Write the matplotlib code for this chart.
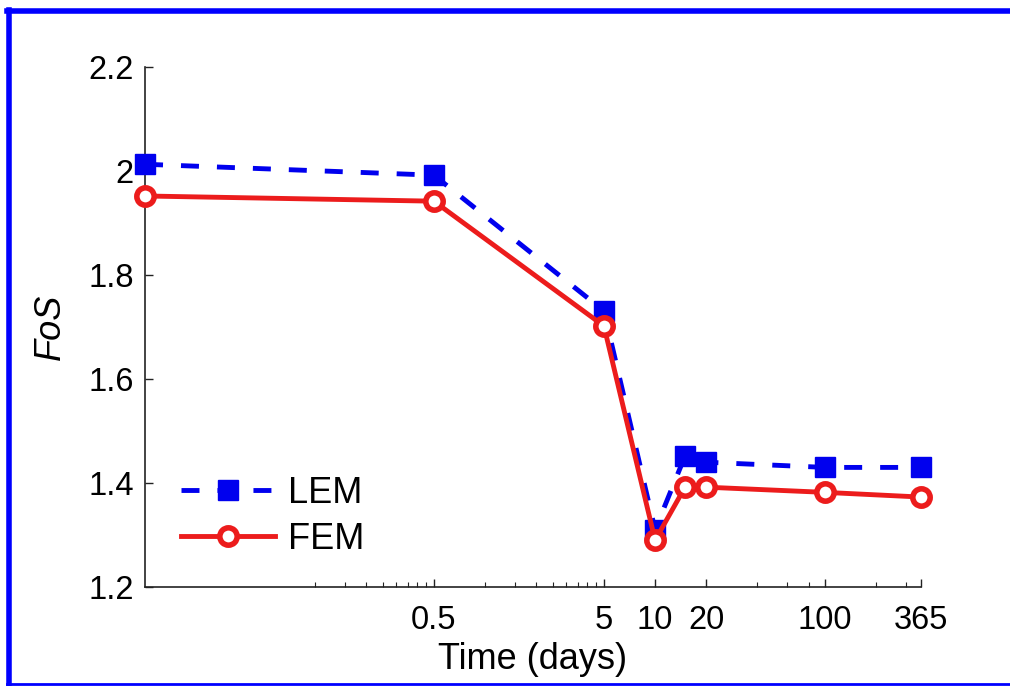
import matplotlib.pyplot as plt
from matplotlib.lines import Line2D

plt.rcParams['font.family'] = ['Liberation Sans', 'DejaVu Sans']

# data
days = [0.01, 0.5, 5, 10, 15, 20, 100, 365]
lem = [2.013, 1.992, 1.731, 1.31, 1.452, 1.44, 1.43, 1.43]
fem = [1.952, 1.942, 1.702, 1.29, 1.392, 1.392, 1.382, 1.373]
xticks = [0.5, 5, 10, 20, 100, 365]
xlabels = ['0.5', '5', '10', '20', '100', '365']
yticks = [1.2, 1.4, 1.6, 1.8, 2.0, 2.2]
ylabels = ['1.2', '1.4', '1.6', '1.8', '2', '2.2']
minor = [0.1, 0.15, 0.2, 0.25, 0.3, 0.35, 0.4, 0.45,
         1, 1.5, 2, 2.5, 3, 3.5, 4, 4.5,
         40, 60, 80, 200, 300]

blue = '#0000ee'
red = '#ec1c1c'

fig = plt.figure(figsize=(10.1, 6.86), dpi=100)
ax = fig.add_axes([0.1436, 0.1443, 0.768, 0.758])

ax.plot(days, lem, color=blue, lw=3.5, ls=(0, (3.7, 3.7)), marker='s',
        markersize=14, markeredgewidth=1, label='LEM', zorder=3,
        clip_on=False)
ax.plot(days, fem, color=red, lw=3.5, marker='o', markersize=12.5,
        markerfacecolor='white', markeredgewidth=4, label='FEM', zorder=4,
        clip_on=False)

ax.set_xscale('log')
ax.set_xlim(0.01, 365)
ax.set_ylim(1.2, 2.2)
ax.set_xticks(xticks)
ax.set_xticklabels(xlabels)
ax.set_xticks(minor, minor=True)
ax.set_xticklabels([], minor=True)
ax.set_yticks(yticks)
ax.set_yticklabels(ylabels)

for s in ['top', 'right']:
    ax.spines[s].set_visible(False)
for s in ['left', 'bottom']:
    ax.spines[s].set_color('#222222')
    ax.spines[s].set_linewidth(1.2)

ax.tick_params(which='major', direction='in', length=6, width=1,
               labelsize=23.5, color='#222222')
ax.tick_params(which='minor', direction='in', length=3.5, width=0.8,
               color='#222222')
ax.tick_params(axis='x', which='major', pad=13)
ax.tick_params(axis='y', which='major', pad=8)

ax.set_xlabel('Time (days)', fontsize=26, labelpad=4)
ax.set_ylabel('FoS', fontsize=26, style='italic', labelpad=15)

ax.legend(loc='lower left', bbox_to_anchor=(0.005, -0.004), frameon=False,
          fontsize=26, handlelength=2.6, handletextpad=0.35,
          labelspacing=0.3, borderaxespad=0.5)

# blue frame around the figure
fig.add_artist(Line2D([0.007, 1.0], [0.984, 0.984], color='#0000ff', lw=4,
                      transform=fig.transFigure))
fig.add_artist(Line2D([0.0094, 0.0094], [0.003, 0.986], color='#0000ff', lw=4,
                      transform=fig.transFigure))
fig.add_artist(Line2D([0.007, 1.0], [0.003, 0.003], color='#0000ff', lw=2,
                      transform=fig.transFigure))

fig.savefig('out.png', dpi=100)
